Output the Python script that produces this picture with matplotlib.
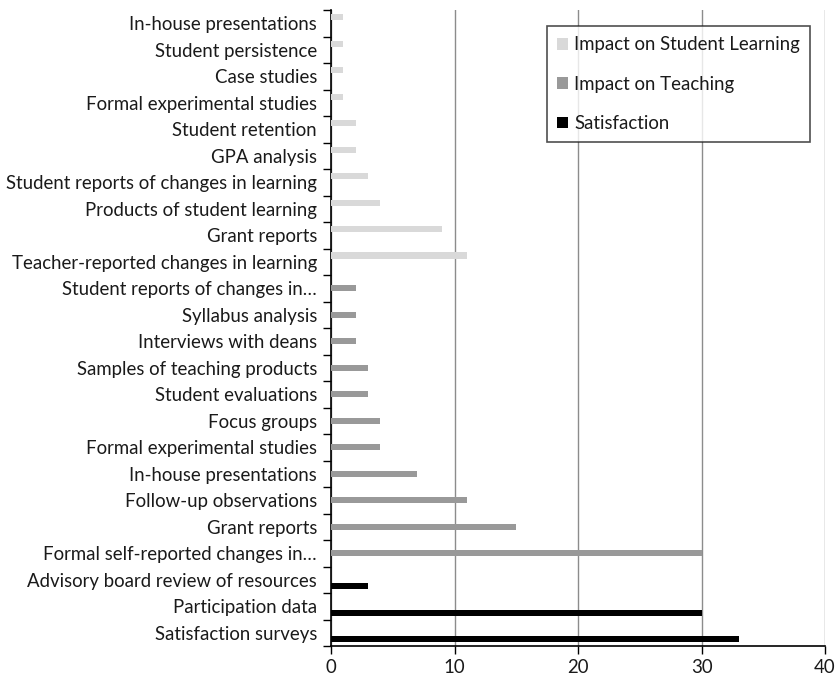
import matplotlib
matplotlib.use("Agg")
import matplotlib.pyplot as plt
import numpy as np

plt.rcParams["font.family"] = ["Lato", "DejaVu Sans"]

# categories from bottom to top, with the series each one belongs to
labels = [
    "Satisfaction surveys", "Participation data", "Advisory board review of resources",
    "Formal self-reported changes in\u2026", "Grant reports", "Follow-up observations",
    "In-house presentations", "Formal experimental studies", "Focus groups",
    "Student evaluations", "Samples of teaching products", "Interviews with deans",
    "Syllabus analysis", "Student reports of changes in\u2026",
    "Teacher-reported changes in learning", "Grant reports", "Products of student learning",
    "Student reports of changes in learning", "GPA analysis", "Student retention",
    "Formal experimental studies", "Case studies", "Student persistence",
    "In-house presentations",
]
satisfaction = [33, 30, 3] + [0] * 21
teaching = [0, 0, 0, 30, 15, 11, 7, 4, 4, 3, 3, 2, 2, 2] + [0] * 10
learning = [0] * 14 + [11, 9, 4, 3, 2, 2, 1, 1, 1, 1]

series = [
    ("Satisfaction", satisfaction, "#000000", -0.24),
    ("Impact on Teaching", teaching, "#999999", 0.0),
    ("Impact on Student Learning", learning, "#d9d9d9", 0.24),
]

FS = 13.4
TXT = "#1a1a1a"

fig = plt.figure(figsize=(8.38, 6.78), dpi=100)
ax = fig.add_axes([0.395, 0.047, 0.5895, 0.938])

y = np.arange(len(labels))
handles = []
for name, vals, col, off in series:
    h = ax.barh(y + off, vals, height=0.23, color=col, label=name, zorder=3)
    handles.append(h)

ax.set_xlim(0, 40)
ax.set_ylim(-0.5, len(labels) - 0.5)
ax.set_xticks([0, 10, 20, 30, 40])
ax.tick_params(axis="x", labelsize=FS, length=6, width=1, color="black",
               labelcolor=TXT, pad=3)
ax.xaxis.grid(True, color="#8c8c8c", linewidth=1, zorder=0)

ax.set_yticks(y)
ax.set_yticklabels(labels)
ax.set_yticks(np.arange(len(labels) + 1) - 0.5, minor=True)
ax.tick_params(axis="y", which="major", length=0, labelsize=FS, labelcolor=TXT, pad=10)
ax.tick_params(axis="y", which="minor", length=6, width=1, color="black")

for s in ["top", "right"]:
    ax.spines[s].set_visible(False)
ax.spines["left"].set_linewidth(1.2)
ax.spines["bottom"].set_linewidth(1.2)

leg = ax.legend(handles[::-1], [h.get_label() for h in handles[::-1]],
                loc="upper right", bbox_to_anchor=(0.97, 0.975),
                fontsize=FS, frameon=True, fancybox=False,
                handlelength=0.6, handleheight=0.6, handletextpad=0.3,
                labelspacing=1.2, borderpad=0.55, borderaxespad=0)
for t in leg.get_texts():
    t.set_color(TXT)
leg.get_frame().set_edgecolor("#222222")
leg.get_frame().set_linewidth(1.2)

fig.savefig("out.png", dpi=100)
